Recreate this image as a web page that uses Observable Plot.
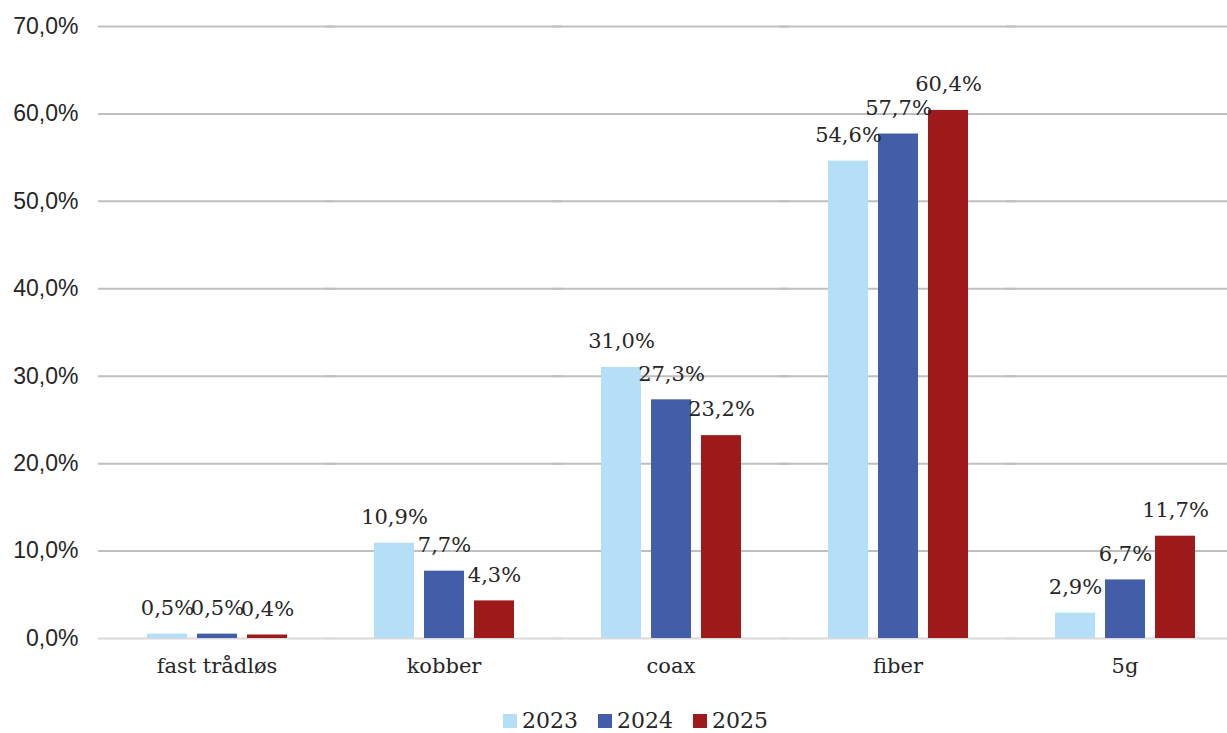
<!DOCTYPE html>
<html>
<head>
<meta charset="utf-8">
<script src="https://cdn.jsdelivr.net/npm/d3@7"></script>
<script src="https://cdn.jsdelivr.net/npm/@observablehq/plot@0.6"></script>
<style>
  body { margin: 0; background: #fff; font-family: "DejaVu Serif", serif; }
  #legend { display: flex; justify-content: center; gap: 20px; font-size: 22px; color: #262626; margin-top: 8px; padding-left: 44px; }
  #legend span.item { display: flex; align-items: center; gap: 5px; }
  #legend span.sw { width: 14px; height: 14px; display: inline-block; }
</style>
</head>
<body>
<div id="chart"></div>
<div id="legend"></div>
<script>
const categories = ["fast trådløs", "kobber", "coax", "fiber", "5g"];
const years = ["2023", "2024", "2025"];
const values2023 = [0.5, 10.9, 31.0, 54.6, 2.9];
const values2024 = [0.5, 7.7, 27.3, 57.7, 6.7];
const values2025 = [0.4, 4.3, 23.2, 60.4, 11.7];
const yTicks = [0, 10, 20, 30, 40, 50, 60, 70];
const colors = ["#b4dff7", "#425ea8", "#9e1a1a"];

const series = [values2023, values2024, values2025];
const data = [];
categories.forEach((c, i) => {
  years.forEach((y, j) => data.push({category: c, year: y, value: series[j][i]}));
});
const fmt = v => v.toFixed(1).replace(".", ",") + "%";

const chart = Plot.plot({
  width: 1227,
  height: 700,
  marginLeft: 114,
  marginRight: 0,
  marginTop: 26,
  marginBottom: 62,
  style: {fontFamily: "DejaVu Serif, serif", fontSize: "21px", color: "#262626", background: "#fff"},
  fx: {domain: categories, paddingInner: 0.38, paddingOuter: 0.136, label: null},
  x: {domain: years, paddingInner: 0.2, paddingOuter: 0, axis: null},
  y: {domain: [0, 70], ticks: yTicks, label: null},
  color: {domain: years, range: colors},
  marks: [
    Plot.ruleY(yTicks.filter(t => t > 0), {stroke: "#bfbfbf", strokeWidth: 2, insetLeft: -48, insetRight: -48}),
    Plot.ruleY([0], {stroke: "#d9d9d9", strokeWidth: 2, insetLeft: -48, insetRight: -48}),
    Plot.barY(data, {fx: "category", x: "year", y: "value", fill: "year"}),
    Plot.text(data, {fx: "category", x: "year", y: "value", text: d => fmt(d.value), dy: -26, lineAnchor: "middle", fill: "#262626", fontSize: 21}),
    Plot.axisY({ticks: yTicks, tickFormat: fmt, tickSize: 0, tickPadding: 68, fontSize: 23, fontFamily: "Liberation Sans, Arial, sans-serif"}),
    Plot.axisFx({anchor: "bottom", tickSize: 0, tickPadding: 20, fontSize: 21, label: null})
  ]
});
document.getElementById("chart").appendChild(chart);

const legend = document.getElementById("legend");
years.forEach((y, i) => {
  const item = document.createElement("span");
  item.className = "item";
  const sw = document.createElement("span");
  sw.className = "sw";
  sw.style.background = colors[i];
  item.appendChild(sw);
  item.appendChild(document.createTextNode(y));
  legend.appendChild(item);
});
</script>
</body>
</html>
